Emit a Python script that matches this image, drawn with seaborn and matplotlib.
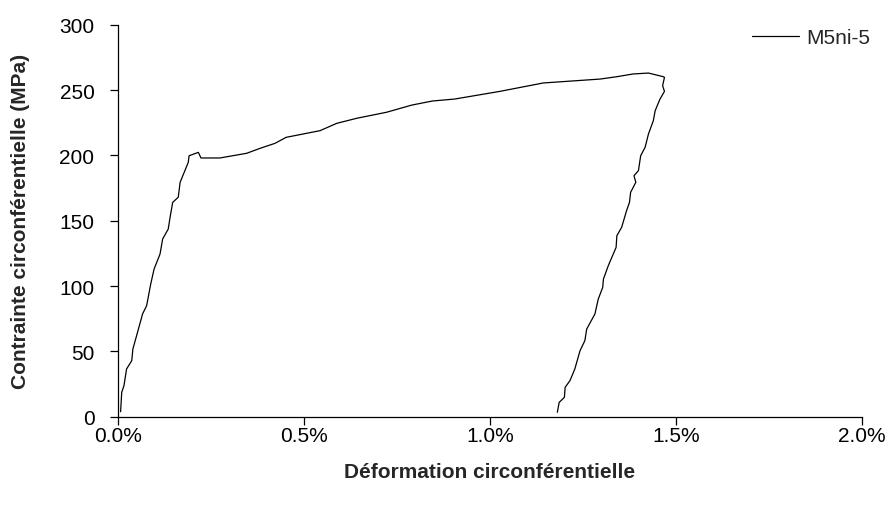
import matplotlib
matplotlib.use("Agg")
import matplotlib.pyplot as plt
from matplotlib.ticker import PercentFormatter, MultipleLocator
import seaborn as sns
import pandas as pd

# Data (strain in %, stress in MPa)
strain_pct = [0.007, 0.010, 0.016, 0.023, 0.037, 0.040, 0.050, 0.066, 0.077, 0.088,
              0.097, 0.113, 0.120, 0.135, 0.140, 0.147, 0.162, 0.167, 0.189, 0.191,
              0.216, 0.223, 0.274, 0.346, 0.382, 0.422, 0.452, 0.543, 0.588, 0.642,
              0.722, 0.790, 0.845, 0.905, 1.027, 1.143, 1.296, 1.341, 1.385, 1.426,
              1.466, 1.469, 1.464, 1.469, 1.457, 1.444, 1.439, 1.426, 1.417, 1.405,
              1.399, 1.387, 1.392, 1.378, 1.375, 1.367, 1.354, 1.341, 1.339, 1.318,
              1.305, 1.303, 1.291, 1.282, 1.260, 1.255, 1.242, 1.228, 1.215, 1.202,
              1.200, 1.186, 1.181]
stress_mpa = [3.8, 18.7, 23.7, 36.5, 42.9, 51.8, 62.0, 78.6, 85.0, 101.6,
              113.0, 124.5, 136.0, 143.6, 152.6, 164.0, 168.0, 179.4, 194.7, 199.7,
              202.3, 198.0, 198.0, 201.6, 205.4, 209.2, 213.8, 218.9, 224.5, 228.4,
              233.0, 238.5, 241.6, 243.1, 249.0, 255.4, 258.4, 260.2, 262.3, 263.0,
              260.2, 259.7, 253.3, 249.0, 243.1, 234.2, 226.5, 216.4, 206.2, 199.7,
              188.3, 184.4, 179.4, 171.7, 164.1, 157.6, 145.0, 138.5, 129.6, 115.6,
              105.4, 99.0, 90.0, 78.6, 67.1, 58.2, 50.5, 36.5, 27.6, 22.5,
              14.8, 11.0, 3.4]
series_name = "M5ni-5"
x_label = "Déformation circonférentielle"
y_label = "Contrainte circonférentielle (MPa)"

df = pd.DataFrame({"strain": strain_pct, "stress": stress_mpa, "serie": series_name})

sns.set_style("ticks")
plt.rcParams['font.family'] = ['Liberation Sans', 'DejaVu Sans']

fig = plt.figure(figsize=(8.88, 5.10), dpi=100)
ax = fig.add_axes([118/888, 1 - 417.7/510, (862 - 118)/888, (417.7 - 25.7)/510])

sns.lineplot(data=df, x="strain", y="stress", hue="serie", sort=False,
             estimator=None, palette=["black"], linewidth=0.9, ax=ax)

ax.set_xlim(0, 2.0)
ax.set_ylim(0, 300)
ax.xaxis.set_major_locator(MultipleLocator(0.5))
ax.yaxis.set_major_locator(MultipleLocator(50))
ax.xaxis.set_major_formatter(PercentFormatter(xmax=100, decimals=1))

sns.despine(ax=ax)
for sp in ["left", "bottom"]:
    ax.spines[sp].set_color("black")
    ax.spines[sp].set_linewidth(0.9)
ax.tick_params(axis="y", direction="out", length=6, width=0.9, pad=11,
               labelsize=15, colors="black")
ax.tick_params(axis="x", direction="out", length=6, width=0.9, pad=1,
               labelsize=15, colors="black")

ax.set_xlabel(x_label, fontsize=15, fontweight="bold", labelpad=12)
ax.set_ylabel(y_label, fontsize=15, fontweight="bold", labelpad=21)

leg = ax.legend(loc="center left", bbox_to_anchor=(752/888, 1 - 39/510),
                bbox_transform=fig.transFigure, frameon=False, fontsize=15,
                borderpad=0, borderaxespad=0, handlelength=2.25, handletextpad=0.35)

fig.savefig("out.png", dpi=100)
